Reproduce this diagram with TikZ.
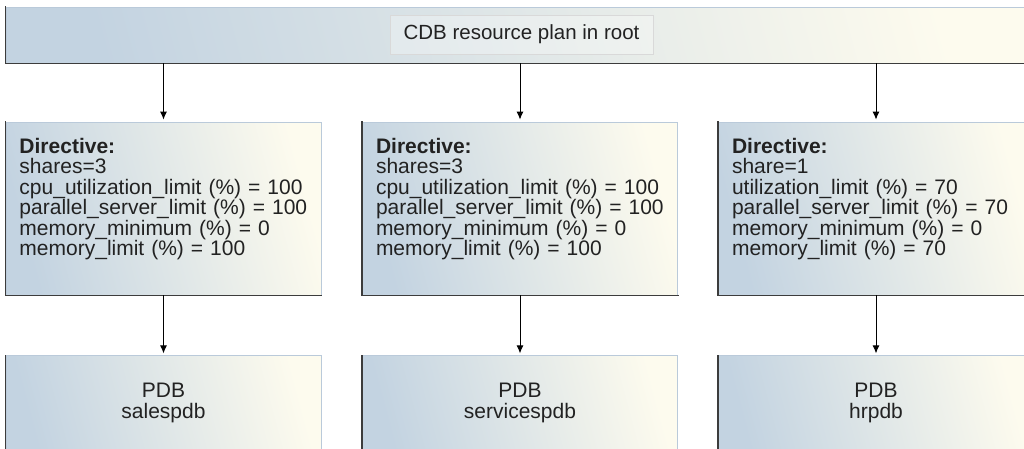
\documentclass[tikz,border=0pt]{standalone}
\usepackage{fontspec}
\setmainfont{Liberation Sans}
\usepackage{tikz}
\usetikzlibrary{positioning}
\usetikzlibrary{shapes, arrows.meta}
\definecolor{planblue}{HTML}{C3D3E1}
\definecolor{plancream}{HTML}{FDFBEE}
\definecolor{planedge}{HTML}{BACADA}
\definecolor{planshade}{HTML}{3C3C3C}
\definecolor{plantext}{HTML}{222222}
\tikzstyle{dark edge} = [draw=planshade, line width=1.5pt, line cap=rect]
\tikzstyle{box}       = [rectangle, draw=planedge, line width=0.8pt, inner sep=0pt,
                         left color=planblue, right color=plancream, shading angle=105,
                         text=plantext, font=\fontsize{21}{21}\selectfont,
                         append after command={(\tikzlastnode.north west) edge[dark edge] (\tikzlastnode.south west)
                                               (\tikzlastnode.south west) edge[dark edge] (\tikzlastnode.south east)}]
\tikzstyle{directive} = [box, minimum width=315pt, minimum height=173pt, font=\fontsize{21}{20.5}\selectfont,
                         text width=288pt, text depth=126pt, align=left]
\tikzstyle{pdb}       = [box, minimum width=315pt, minimum height=95pt, align=center]
\tikzstyle{title}     = [rectangle, draw=gray!30, line width=0.6pt, fill=white, fill opacity=0.3,
                         text opacity=1, text=plantext, font=\fontsize{20.5}{22}\selectfont,
                         minimum width=263pt, minimum height=39pt]
\tikzstyle{arrow}     = [line width=1pt, -{Latex[length=8pt, width=7pt]}, shorten >=2pt]

\begin{document}
\begin{tikzpicture}[x=1pt, y=-1pt, node distance=60pt]
\useasboundingbox (0,0) rectangle (1024,448);
\node (bar) [box, minimum width=1030pt, minimum height=56pt] at (521,35) {};
\node (plan) [title] at (521.5,34.5) {CDB resource plan in root};
\node (sales dir) [directive] at (163.5,208.5) {\textbf{Directive:}\\ shares=3\\ cpu\_utilization\_limit (\%) = 100\\ parallel\_server\_limit (\%) = 100\\ memory\_minimum (\%) = 0\\ memory\_limit (\%) = 100};
\node (services dir) [directive] at (520,208.5) {\textbf{Directive:}\\ shares=3\\ cpu\_utilization\_limit (\%) = 100\\ parallel\_server\_limit (\%) = 100\\ memory\_minimum (\%) = 0\\ memory\_limit (\%) = 100};
\node (hr dir) [directive] at (876,208.5) {\textbf{Directive:}\\ share=1\\ utilization\_limit (\%) = 70\\ parallel\_server\_limit (\%) = 70\\ memory\_minimum (\%) = 0\\ memory\_limit (\%) = 70};
\node (sales pdb) [pdb, below=of sales dir] {PDB\\ salespdb};
\node (services pdb) [pdb, below=of services dir] {PDB\\ servicespdb};
\node (hr pdb) [pdb, below=of hr dir] {PDB\\ hrpdb};
\draw [arrow] (bar.south -| sales dir.north) -- (sales dir.north);
\draw [arrow] (bar.south -| services dir.north) -- (services dir.north);
\draw [arrow] (bar.south -| hr dir.north) -- (hr dir.north);
\draw [arrow] (sales dir.south) -- (sales pdb);
\draw [arrow] (services dir.south) -- (services pdb);
\draw [arrow] (hr dir.south) -- (hr pdb);
\end{tikzpicture}
\end{document}
